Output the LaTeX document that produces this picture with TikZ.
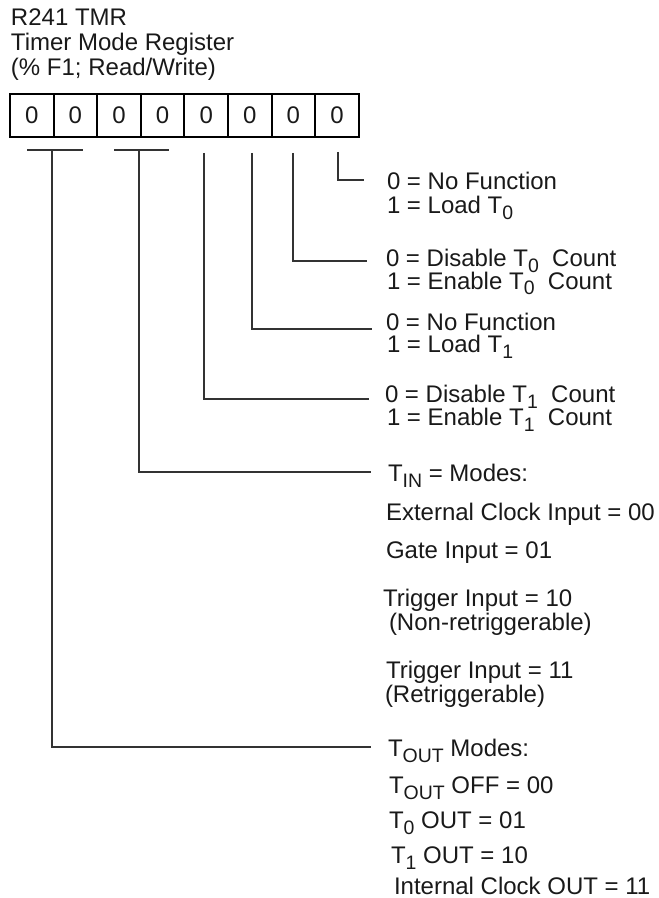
\documentclass[tikz,border=0pt]{standalone}
\usepackage{fontspec}
\setmainfont{Liberation Sans}
\newcommand\sbs[1]{\raisebox{-4.5pt}{\fontsize{14.6}{14.6}\selectfont #1}}
\begin{document}
\begin{tikzpicture}[x=0.75pt,y=-0.75pt,
  every node/.style={inner sep=0pt,outer sep=0pt,font=\fontsize{18}{21}\selectfont,text=black!90},
  lbl/.style={anchor=base west},
  cell/.style={draw=black,line width=1.6pt,minimum width=32.7pt,minimum height=32.25pt},
  conn/.style={line width=0.9pt,draw=black!80}]
\useasboundingbox (0,0) rectangle (658,898);
% title
\node[lbl] (t1) at (11,26) {R241 TMR};
\node[lbl] (t2) at (11,51) {Timer Mode Register};
\node[lbl] (t3) at (11,76) {(\% F1; Read/Write)};
% register
\foreach \i in {0,...,7}
  \node[cell] (c\i) at ({10+43.6*(\i+0.5)},115.5) {0};
% labels
\node[lbl] (b0a) at (387,190) {0 = No Function};
\node[lbl] (b0b) at (387,214) {1 = Load T\sbs{0}};
\node[lbl] (b1a) at (386,267) {0 = Disable T\sbs{0}\ \ Count};
\node[lbl] (b1b) at (387,289) {1 = Enable T\sbs{0}\ \ Count};
\node[lbl] (b2a) at (386,330) {0 = No Function};
\node[lbl] (b2b) at (387,352) {1 = Load T\sbs{1}};
\node[lbl] (b3a) at (385,402) {0 = Disable T\sbs{1}\ \ Count};
\node[lbl] (b3b) at (387,425) {1 = Enable T\sbs{1}\ \ Count};
\node[lbl] (m0) at (388,481) {T\sbs{IN} = Modes:};
\node[lbl] (m1) at (386,520) {External Clock Input = 00};
\node[lbl] (m2) at (386,558) {Gate Input = 01};
\node[lbl] (m3) at (383,606) {Trigger Input = 10};
\node[lbl] (m4) at (389,630) {(Non-retriggerable)};
\node[lbl] (m5) at (386,678) {Trigger Input = 11};
\node[lbl] (m6) at (385,702) {(Retriggerable)};
\node[lbl] (o0) at (388,756) {T\sbs{OUT} Modes:};
\node[lbl] (o1) at (389,793) {T\sbs{OUT} OFF = 00};
\node[lbl] (o2) at (389,828) {T\sbs{0} OUT = 01};
\node[lbl] (o3) at (391,863) {T\sbs{1} OUT = 10};
\node[lbl] (o4) at (394,894) {Internal Clock OUT = 11};
% connector coordinates
\coordinate (ba1) at (27,150); \coordinate (ba2) at (83,150);
\coordinate (bb1) at (114,150); \coordinate (bb2) at (169,150);
\coordinate (ta) at (52,150);  \coordinate (ea) at (371,747);
\coordinate (tb) at (139,150); \coordinate (eb) at (371,472);
\coordinate (t3) at (204,153); \coordinate (e3) at (369,399);
\coordinate (t2) at (252,153); \coordinate (e2) at (372,329);
\coordinate (t1x) at (293,153); \coordinate (e1) at (367,261);
\coordinate (t0) at (338,152); \coordinate (e0) at (364,180);
\draw[conn] (ba1) -- (ba2);
\draw[conn] (bb1) -- (bb2);
\draw[conn] (ta) |- (ea);
\draw[conn] (tb) |- (eb);
\draw[conn] (t3) |- (e3);
\draw[conn] (t2) |- (e2);
\draw[conn] (t1x) |- (e1);
\draw[conn] (t0) |- (e0);
\end{tikzpicture}
\end{document}
